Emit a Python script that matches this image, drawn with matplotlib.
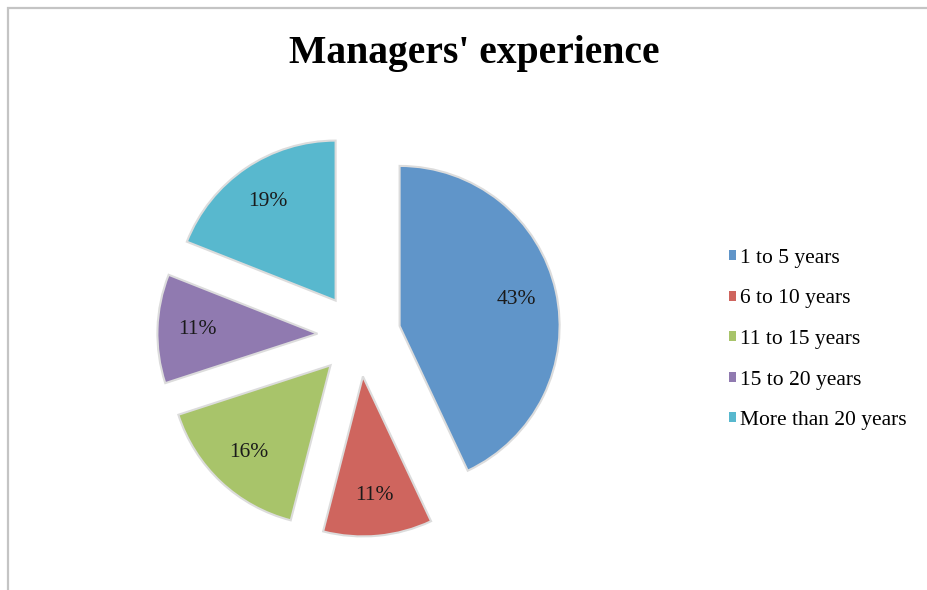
import numpy as np
import matplotlib.pyplot as plt
from matplotlib.patches import Patch, Rectangle

# data
labels = ["1 to 5 years", "6 to 10 years", "11 to 15 years", "15 to 20 years", "More than 20 years"]
shares = [43, 11, 16, 11, 19]
colors = ["#6095C9", "#CF655E", "#A8C46A", "#907AB0", "#58B8CE"]

W, H = 927, 590
fig = plt.figure(figsize=(W / 100, H / 100), dpi=100)

# pie axes: radius 1 -> 160 px, centre at (359, 335) px from top-left
ax = fig.add_axes([159 / W, 55 / H, 400 / W, 400 / H])
wedges, texts = ax.pie(shares, colors=colors, startangle=90, counterclock=False,
                       explode=[0.26] * len(shares),
                       wedgeprops=dict(edgecolor="#dcdcdc", linewidth=1.5))
for w, v in zip(wedges, shares):
    th = np.radians((w.theta1 + w.theta2) / 2)
    cx, cy = w.center
    ax.text(cx + 0.75 * np.cos(th), cy + 0.75 * np.sin(th),
            f"{v}%", ha="center", va="center", fontsize=15.5,
            family="Liberation Serif", color="#1a1a1a")
ax.set_xlim(-1.25, 1.25)
ax.set_ylim(-1.25, 1.25)
ax.set_aspect("equal")

fig.text(474 / W, 1 - 53 / H, "Managers' experience", ha="center", va="center",
         fontsize=28.5, fontweight="bold", family="Liberation Serif")

handles = [Patch(facecolor=c, edgecolor="none") for c in colors]
fig.legend(handles, labels, loc="center left", bbox_to_anchor=(729 / W, 1 - 339.5 / H),
           frameon=False, prop=dict(family="Liberation Serif", size=15.5),
           borderpad=0, borderaxespad=0,
           handlelength=0.33, handleheight=0.33, handletextpad=0.2, labelspacing=1.0)

# light grey chart border (left and top visible)
fig.add_artist(Rectangle((8 / W, -0.05), 1.2, 1.05 - 8 / H, transform=fig.transFigure,
                         fill=False, edgecolor="#c4c4c4", linewidth=1.6))

fig.savefig("out.png", dpi=100, facecolor="white")
